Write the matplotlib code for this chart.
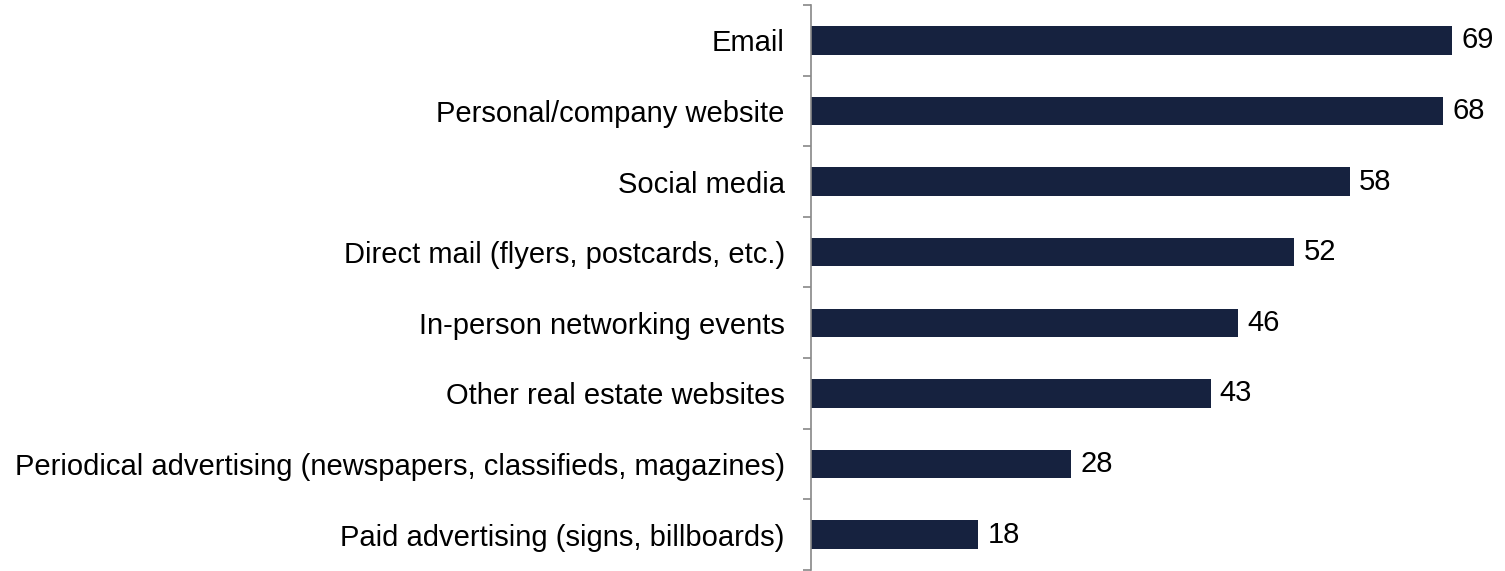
import numpy as np
import matplotlib
matplotlib.use("Agg")
import matplotlib.pyplot as plt

categories = [
    "Email",
    "Personal/company website",
    "Social media",
    "Direct mail (flyers, postcards, etc.)",
    "In-person networking events",
    "Other real estate websites",
    "Periodical advertising (newspapers, classifieds, magazines)",
    "Paid advertising (signs, billboards)",
]
values = [69, 68, 58, 52, 46, 43, 28, 18]

plt.rcParams["font.family"] = ["Liberation Sans", "DejaVu Sans"]

fig = plt.figure(figsize=(15.05, 5.71), dpi=100)
ax = fig.add_axes([0.539, 0.002, 0.461, 0.989])

y = np.arange(len(categories))
ax.barh(y, values, height=0.4, color="#16223F")
ax.set_ylim(len(categories) - 0.5, -0.5)
ax.set_xlim(0, 74.7)

for yi, v in zip(y, values):
    ax.text(v + 1.0, yi, str(v), va="center", ha="left", fontsize=21, color="black")

ax.set_yticks(y)
ax.set_yticklabels(categories, fontsize=21, color="black")
ax.tick_params(axis="y", which="major", length=0, pad=19)
ax.set_yticks(np.arange(len(categories) + 1) - 0.5, minor=True)
ax.tick_params(axis="y", which="minor", length=6, width=1.2, color="#888888", direction="out")

ax.set_xticks([])
for side in ["top", "right", "bottom"]:
    ax.spines[side].set_visible(False)
ax.spines["left"].set_color("#888888")
ax.spines["left"].set_linewidth(1.2)

fig.savefig("out.png", dpi=100)
